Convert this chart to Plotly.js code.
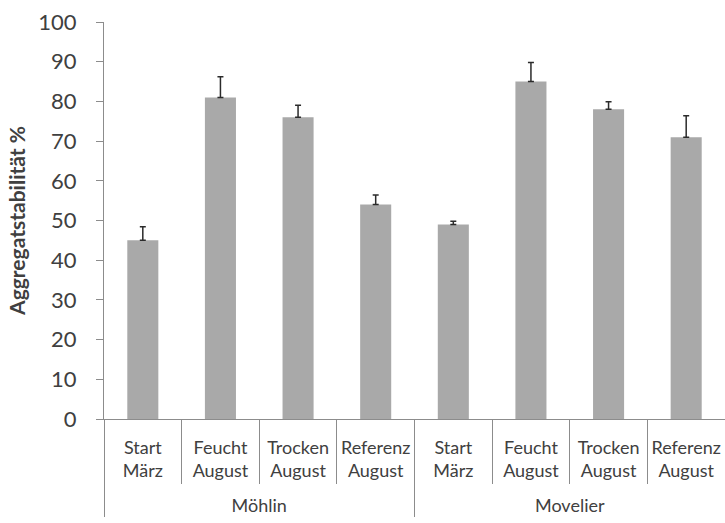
<!DOCTYPE html>
<html>
<head>
<meta charset="utf-8">
<script src="https://cdn.plot.ly/plotly-3.0.1.min.js"></script>
<style>html,body{margin:0;padding:0;background:#fff;}#chart{width:725px;height:523px;}</style>
</head>
<body>
<div id="chart"></div>
<script>
const groups = ["Möhlin","Möhlin","Möhlin","Möhlin","Movelier","Movelier","Movelier","Movelier"];
const treatments = ["Start<br>März","Feucht<br>August","Trocken<br>August","Referenz<br>August","Start<br>März","Feucht<br>August","Trocken<br>August","Referenz<br>August"];
const values = [45, 81, 76, 54, 49, 85, 78, 71];
const errors = [3.4, 5.2, 3.0, 2.4, 0.8, 4.8, 1.9, 5.4];
const yTicks = [0,10,20,30,40,50,60,70,80,90,100];

const fontFam = "Lato, 'Open Sans', sans-serif";
const trace = {
  type: 'bar',
  x: [groups, treatments.map(t => t + '<br> ')],
  y: values,
  marker: {color: '#a9a9a9', line: {width: 0}},
  error_y: {type: 'data', symmetric: false, array: errors, arrayminus: errors.map(() => 0),
            color: '#2b2b2b', thickness: 1.5, width: 3},
  hoverinfo: 'none'
};
const layout = {
  width: 725, height: 523,
  margin: {l: 104, r: 0, t: 22, b: 104, pad: 0},
  paper_bgcolor: '#fff', plot_bgcolor: '#fff',
  bargap: 0.6,
  showlegend: false,
  font: {family: fontFam, color: '#404040'},
  xaxis: {
    type: 'multicategory',
    tickangle: 0,
    showline: true, linecolor: '#8c8c8c', linewidth: 1,
    ticks: 'outside', tickson: 'boundaries', ticklen: 64, tickcolor: '#8c8c8c', tickwidth: 1,
    ticklabelstandoff: 12,
    showdividers: true, dividercolor: '#8c8c8c', dividerwidth: 1,
    tickfont: {size: 18, color: '#404040', family: fontFam},
    showgrid: false, zeroline: false
  },
  yaxis: {
    range: [0, 100], tickvals: yTicks, ticktext: yTicks.map(String),
    showline: true, linecolor: '#8c8c8c', linewidth: 1,
    ticks: 'outside', ticklen: 7, tickcolor: '#8c8c8c', tickwidth: 1,
    ticklabelstandoff: 15,
    tickfont: {size: 22, color: '#404040', family: fontFam},
    showgrid: false, zeroline: false,
    title: {text: 'Aggregatstabilität %', font: {size: 21, color: '#404040', family: fontFam, weight: 'bold'}, standoff: 6}
  }
};
Plotly.newPlot('chart', [trace], layout, {staticPlot: true});
</script>
</body>
</html>
